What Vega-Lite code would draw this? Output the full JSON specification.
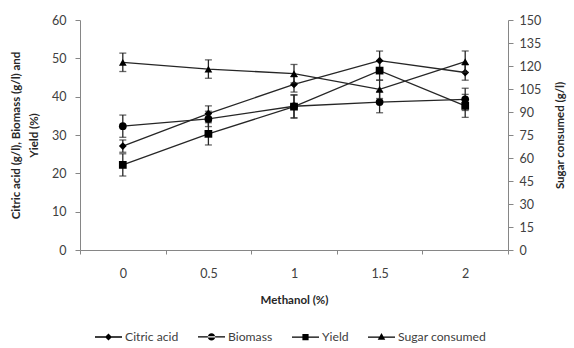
{
  "$schema": "https://vega.github.io/schema/vega-lite/v6.json",
  "autosize": "none",
  "width": 428,
  "height": 230,
  "padding": {"left": 80, "top": 20, "right": 66, "bottom": 98},
  "background": "white",
  "config": {
    "view": {"stroke": null},
    "font": "Lato",
    "axis": {"labelFont": "Lato", "titleFont": "Lato", "labelColor": "#404040", "titleColor": "#262626", "domainColor": "#868686", "tickColor": "#868686", "labelFontSize": 12.5, "titleFontSize": 11.5, "titleFontWeight": "bold", "grid": false}
  },
  "data": {
    "values": [
      {"x": "0", "series": "Citric acid", "value": 27.1, "err": 1.6},
      {"x": "0.5", "series": "Citric acid", "value": 35.6, "err": 2},
      {"x": "1", "series": "Citric acid", "value": 43.2, "err": 2},
      {"x": "1.5", "series": "Citric acid", "value": 49.4, "err": 2.5},
      {"x": "2", "series": "Citric acid", "value": 46.3, "err": 2},
      {"x": "0", "series": "Biomass", "value": 32.3, "err": 2.9},
      {"x": "0.5", "series": "Biomass", "value": 34.2, "err": 2},
      {"x": "1", "series": "Biomass", "value": 37.5, "err": 3},
      {"x": "1.5", "series": "Biomass", "value": 38.6, "err": 2.8},
      {"x": "2", "series": "Biomass", "value": 39.3, "err": 2.9},
      {"x": "0", "series": "Yield", "value": 22.2, "err": 2.9},
      {"x": "0.5", "series": "Yield", "value": 30.3, "err": 2.9},
      {"x": "1", "series": "Yield", "value": 37.4, "err": 3},
      {"x": "1.5", "series": "Yield", "value": 46.8, "err": 2.5},
      {"x": "2", "series": "Yield", "value": 37.6, "err": 3},
      {"x": "0", "series": "Sugar consumed", "value": 122.4, "err": 6},
      {"x": "0.5", "series": "Sugar consumed", "value": 118, "err": 6},
      {"x": "1", "series": "Sugar consumed", "value": 115, "err": 6},
      {"x": "1.5", "series": "Sugar consumed", "value": 104.8, "err": 6},
      {"x": "2", "series": "Sugar consumed", "value": 122.8, "err": 7}
    ]
  },
  "encoding": {
    "x": {
      "field": "x", "type": "ordinal", "sort": ["0", "0.5", "1", "1.5", "2"],
      "scale": {"type": "band", "paddingInner": 0, "paddingOuter": 0},
      "axis": {"title": "Methanol (%)", "labelAngle": 0, "tickBand": "extent", "tickSize": 4, "labelPadding": 13, "titlePadding": 15}
    }
  },
  "layer": [
    {
      "transform": [{"filter": "datum.series != 'Sugar consumed'"}],
      "encoding": {
        "y": {"field": "value", "type": "quantitative", "scale": {"domain": [0, 60], "nice": false},
          "axis": {"title": ["Citric acid (g/l), Biomass (g/l) and", "Yield (%)"], "values": [0, 10, 20, 30, 40, 50, 60], "tickSize": 5, "titlePadding": 12, "labelPadding": 9, "titleLineHeight": 18}}
      },
      "layer": [
        {
          "mark": {"type": "line", "color": "#262626", "strokeWidth": 1.3},
          "encoding": {"detail": {"field": "series"}}
        },
        {
          "mark": {"type": "errorbar", "ticks": {"size": 7, "thickness": 1.3, "color": "#262626"}, "rule": {"strokeWidth": 1.3, "color": "#262626"}},
          "encoding": {"yError": {"field": "err"}, "detail": {"field": "series"}}
        },
        {
          "mark": {"type": "point", "filled": true, "color": "black", "opacity": 1},
          "encoding": {
            "shape": {"field": "series", "scale": {"domain": ["Citric acid", "Biomass", "Yield"], "range": ["diamond", "circle", "square"]}, "legend": null},
            "size": {"value": 60}
          }
        }
      ]
    },
    {
      "transform": [{"filter": "datum.series == 'Sugar consumed'"}],
      "encoding": {
        "y": {"field": "value", "type": "quantitative", "scale": {"domain": [0, 150], "nice": false},
          "axis": {"orient": "right", "title": "Sugar consumed (g/l)", "titleAngle": -90, "titleAlign": "center", "titleBaseline": "top", "titleAnchor": "middle", "values": [0, 15, 30, 45, 60, 75, 90, 105, 120, 135, 150], "tickSize": 5, "titlePadding": 14, "labelPadding": 6}}
      },
      "layer": [
        {"mark": {"type": "line", "color": "#262626", "strokeWidth": 1.3}},
        {
          "mark": {"type": "errorbar", "ticks": {"size": 7, "thickness": 1.3, "color": "#262626"}, "rule": {"strokeWidth": 1.3, "color": "#262626"}},
          "encoding": {"yError": {"field": "err"}}
        },
        {"mark": {"type": "point", "filled": true, "color": "black", "opacity": 1, "shape": "triangle-up", "size": 60}}
      ]
    },
    {
      "transform": [{"filter": "false"}],
      "mark": {"type": "point", "filled": true, "color": "black", "opacity": 1},
      "encoding": {
        "shape": {
          "field": "series",
          "scale": {
            "domain": ["Citric acid", "Biomass", "Yield", "Sugar consumed"],
            "range": [
              "M-1,-0.05H1V0.05H-1ZM-0.26,0L0,-0.26L0.26,0L0,0.26Z",
              "M-1,-0.05H1V0.05H-1ZM-0.27,0A0.27,0.27 0 1,0 0.27,0A0.27,0.27 0 1,0 -0.27,0Z",
              "M-1,-0.05H1V0.05H-1ZM-0.23,-0.23H0.23V0.23H-0.23Z",
              "M-1,-0.05H1V0.05H-1ZM0,-0.3L0.28,0.2L-0.28,0.2Z"
            ]
          },
          "legend": {
            "title": null, "orient": "none", "direction": "horizontal", "legendX": 14, "legendY": 302,
            "symbolSize": 729, "labelFontSize": 12.2, "labelColor": "#404040", "labelFont": "Lato",
            "columnPadding": 16, "labelOffset": 2,
            "encode": {"symbols": {"update": {"fill": {"value": "black"}, "opacity": {"value": 1}}}}
          }
        }
      }
    }
  ],
  "resolve": {"scale": {"y": "independent", "shape": "independent"}}
}
